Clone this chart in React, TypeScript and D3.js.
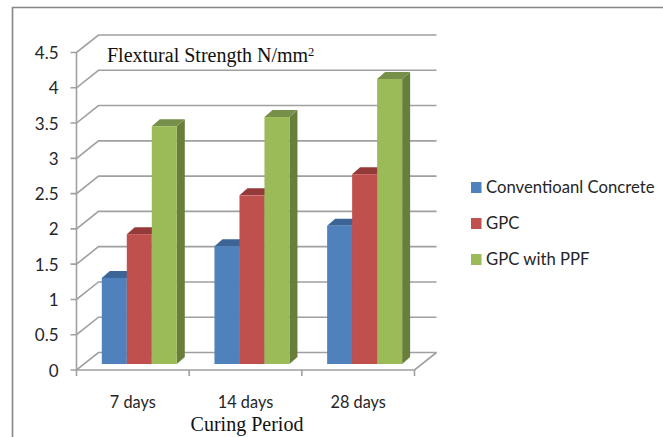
import React from "react";
import * as d3 from "d3";

const categories = ["7 days", "14 days", "28 days"];
const seriesNames = ["Conventioanl Concrete", "GPC", "GPC with PPF"];
const conventional = [1.22, 1.67, 1.96];
const gpc = [1.84, 2.39, 2.69];
const gpcPpf = [3.37, 3.5, 4.04];
const yTicks = [0, 0.5, 1, 1.5, 2, 2.5, 3, 3.5, 4, 4.5];
const seriesValues = [conventional, gpc, gpcPpf];
const faceColors = ["#4f81bd", "#c0504d", "#9bbb59"];
const topColors = ["#3c6596", "#943b39", "#76904a"];
const sideColors = ["#335680", "#7f3230", "#687f3b"];

const W = 663, H = 437;
const x0 = 76.5, x1 = 414.5, yBase = 370, yTop = 52.5;
const wallDx = 22, wallDy = 17.5;
const barDx = 8, barDy = 7, barLift = 6;
const grid = "#a0a0a0";

export default function App() {
  const y = d3.scaleLinear().domain([0, 4.5]).range([yBase, yTop]);
  const xCat = d3.scaleBand().domain(categories).range([x0, x1]);
  const xSeries = d3.scaleBand().domain(seriesNames).range([25.3, 25.3 + 75]);
  const line = d3.line();
  const poly = (p: [number, number][]) => line(p) + "Z";
  const sans = "Lato, Carlito, sans-serif";
  const serif = "'Liberation Serif', serif";
  return (
    <svg width={W} height={H} viewBox={`0 0 ${W} ${H}`} style={{ position: "absolute", left: 0, top: 0, background: "#fff" }}>
      <path d={`M12.5,437V7.5H663`} fill="none" stroke="#868686" strokeWidth={1.6} />
      {yTicks.map((t) => {
        const v = y(t);
        return (
          <g key={t}>
            <path
              d={line([[x0 - 6, v], [x0, v], [x0 + wallDx, v - wallDy], [x1 + wallDx, v - wallDy]])!}
              fill="none" stroke={grid} strokeWidth={1.6}
            />
            <text x={58.5} y={v + 6.5} textAnchor="end" fontFamily={sans} fontSize={17} fill="#262626">{t}</text>
          </g>
        );
      })}
      <path d={line([[x0, yTop], [x0, yBase], [x1, yBase], [x1 + wallDx, yBase - wallDy]])!} fill="none" stroke={grid} strokeWidth={1.6} />
      {[0, 1, 2, 3].map((i) => {
        const tx = x0 + i * xCat.step();
        return <line key={i} x1={tx} x2={tx} y1={yBase} y2={yBase + 6} stroke={grid} strokeWidth={1.6} />;
      })}
      {categories.map((c, ci) => (
        <g key={c}>
          {seriesNames.map((s, si) => {
            const left = xCat(c)! + xSeries(s)!;
            const w = xSeries.bandwidth();
            const right = left + w;
            const base = yBase - barLift;
            const top = y(seriesValues[si][ci]) - barLift;
            return (
              <g key={s}>
                <path d={poly([[right, top], [right + barDx, top - barDy], [right + barDx, base - barDy], [right, base]])} fill={sideColors[si]} />
                <path d={poly([[left, top], [left + barDx, top - barDy], [right + barDx, top - barDy], [right, top]])} fill={topColors[si]} />
                <rect x={left} y={top} width={w} height={base - top} fill={faceColors[si]} />
              </g>
            );
          })}
          <text x={xCat(c)! + xCat.bandwidth() / 2} y={408} textAnchor="middle" fontFamily={sans} fontSize={16.3} fill="#262626">{c}</text>
        </g>
      ))}
      <text x={107} y={62} fontFamily={serif} fontSize={20} fill="#111">
        Flextural Strength N/mm<tspan dy={-6} fontSize={12.5}>2</tspan>
      </text>
      <text x={247} y={430.5} textAnchor="middle" fontFamily={serif} fontSize={20} fill="#111">Curing Period</text>
      {seriesNames.map((s, i) => {
        const ly = [187.5, 223.5, 259.5][i];
        return (
          <g key={s}>
            <rect x={471} y={ly - 5.5} width={10.5} height={11} fill={faceColors[i]} />
            <text x={486} y={ly + 5.5} fontFamily={sans} fontSize={16.7} fill="#262626">{s}</text>
          </g>
        );
      })}
    </svg>
  );
}
